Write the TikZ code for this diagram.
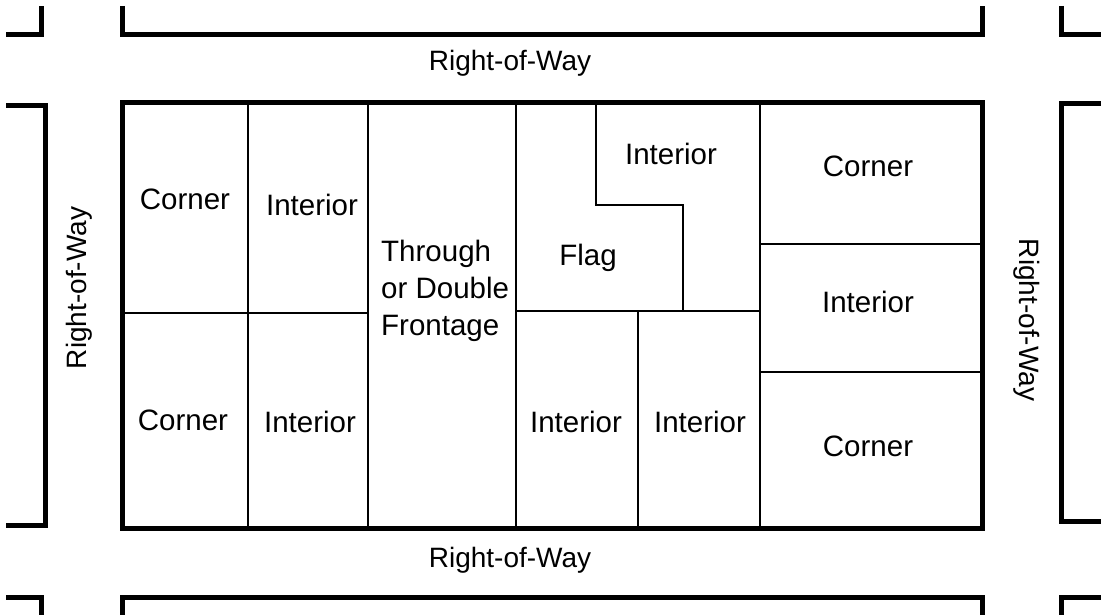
\documentclass[tikz,border=0pt]{standalone}
\usepackage{fontspec}
\setmainfont{Liberation Sans}

\begin{document}
\begin{tikzpicture}[x=1pt,y=-1pt,line join=miter,
            every node/.style={inner sep=0pt,font=\fontsize{29.5}{37}\selectfont},
            row/.style={font=\fontsize{28}{34}\selectfont},
            road/.style={line width=5pt},
            lotline/.style={line width=2.2pt}]
            \useasboundingbox (0,0) rectangle (1101,615);
            % edges of the neighbouring blocks
            \draw[road](6,35)--(41,35)--(41,6);
            \draw[road](122,6)--(122,35)--(982,35)--(982,6);
            \draw[road](1061,6)--(1061,35)--(1104,35);
            \draw[road](6,106)--(45,106)--(45,525)--(6,525);
            \draw[road](1104,104)--(1061,104)--(1061,521)--(1104,521);
            \draw[road](6,597)--(41,597)--(41,618);
            \draw[road](122,618)--(122,597)--(982,597)--(982,618);
            \draw[road](1061,618)--(1061,597)--(1104,597);
            % the block and its lots
            \draw[lotline](248,103)--(248,528);
            \draw[lotline](122,313)--(368,313);
            \draw[lotline](368,103)--(368,528);
            \draw[lotline](516,103)--(516,528);
            \draw[lotline](596,103)--(596,205)--(683,205)--(683,311);
            \draw[lotline](516,311)--(760,311);
            \draw[lotline](638,311)--(638,528);
            \draw[lotline](760,103)--(760,528);
            \draw[lotline](760,244)--(982,244);
            \draw[lotline](760,372)--(982,372);
            \draw[road](122,103)rectangle(982,528);
            % labels
            \node[row,anchor=base](rowtop) at (510,71){Right-of-Way};
            \node[row,anchor=base](rowbot) at (510,567){Right-of-Way};
            \node[row,rotate=90](rowleft) at (79,288){Right-of-Way};
            \node[row,rotate=-90](rowright) at (1027,320){Right-of-Way};
            \node[anchor=base](cornerA) at (185,210){Corner};
            \node[anchor=base](interiorA) at (312,215){Interior};
            \node[anchor=base](cornerB) at (183,430){Corner};
            \node[anchor=base](interiorB) at (310,432){Interior};
            \node[anchor=north west,align=left](through) at (381,240){Through\\or Double\\Frontage};
            \node[anchor=base](flag) at (588,265){Flag};
            \node[anchor=base](interiorC) at (671,165){Interior};
            \node[anchor=base](interiorD) at (576,432){Interior};
            \node[anchor=base](interiorE) at (700,432){Interior};
            \node[anchor=base](cornerC) at (868,176){Corner};
            \node[anchor=base](interiorF) at (868,312){Interior};
            \node[anchor=base](cornerD) at (868,456){Corner};
          \end{tikzpicture}
\end{document}
